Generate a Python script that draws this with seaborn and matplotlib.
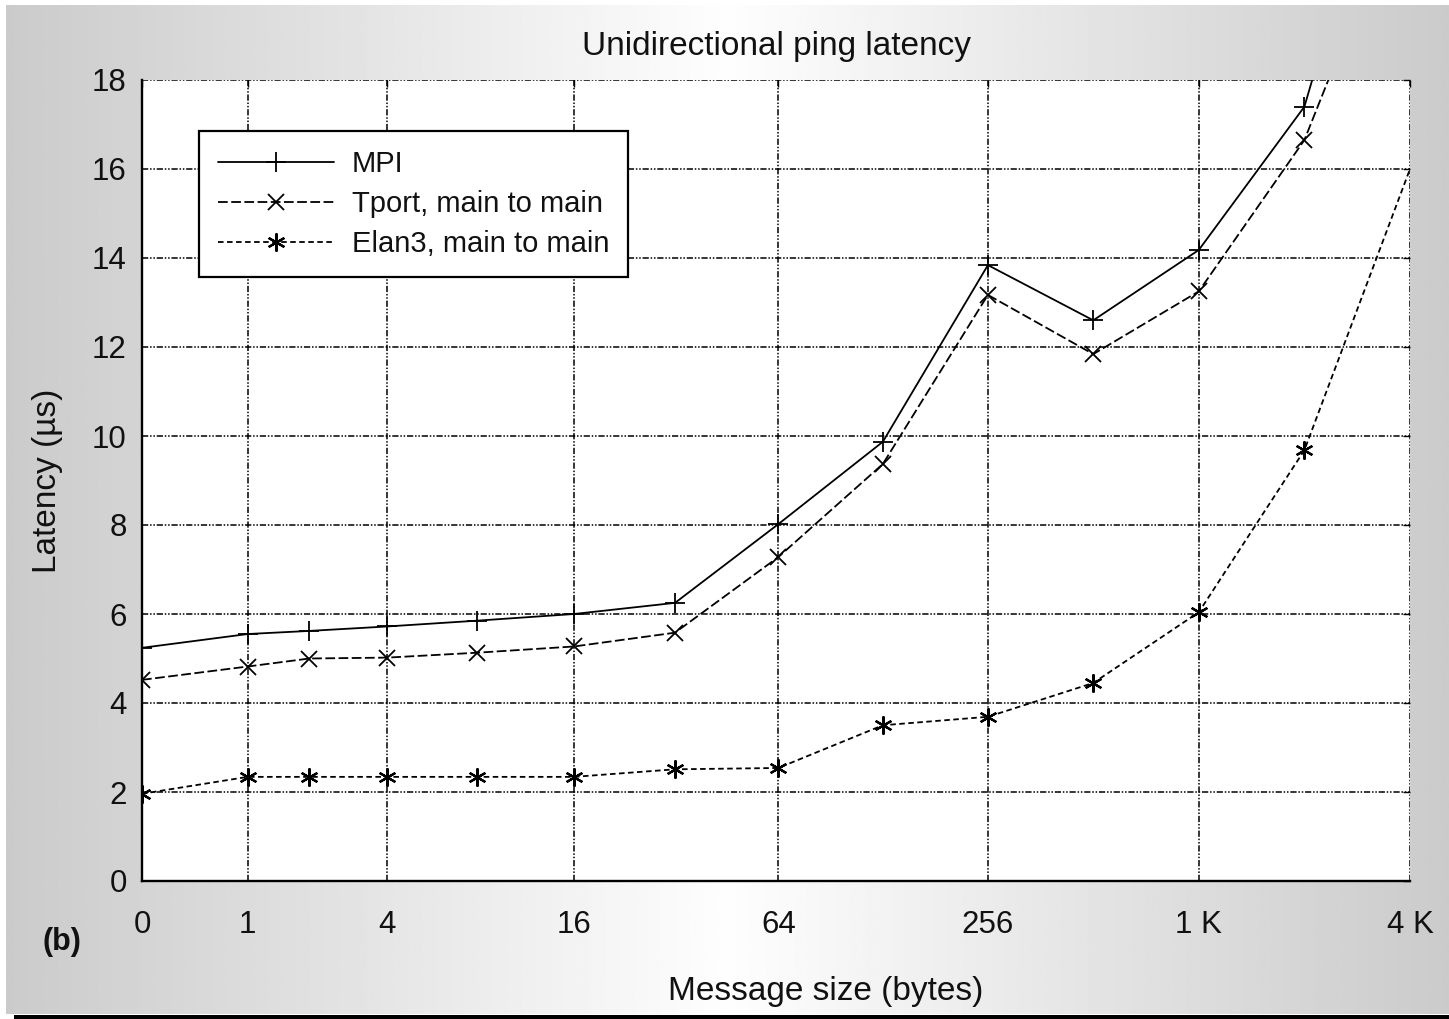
import numpy as np
import pandas as pd
import matplotlib
matplotlib.use("Agg")
import matplotlib.pyplot as plt
import seaborn as sns

# ---- data ----
msg_size = [0, 1, 2, 4, 8, 16, 32, 64, 128, 256, 512, 1024, 2048, 4096]
mpi = [5.24, 5.55, 5.62, 5.72, 5.85, 6.0, 6.25, 8.02, 9.87, 13.84, 12.6, 14.18, 17.4, 25.5]
tport = [4.52, 4.82, 5.0, 5.02, 5.13, 5.27, 5.58, 7.28, 9.37, 13.17, 11.84, 13.25, 16.65, 22.6]
elan3 = [1.96, 2.34, 2.34, 2.34, 2.34, 2.34, 2.51, 2.54, 3.5, 3.69, 4.45, 6.04, 9.68, 16.0]
series_names = ["MPI", "Tport, main to main", "Elan3, main to main"]
x_ticks = [0, 1, 4, 16, 64, 256, 1024, 4096]
x_tick_labels = ["0", "1", "4", "16", "64", "256", "1 K", "4 K"]
y_ticks = [0, 2, 4, 6, 8, 10, 12, 14, 16, 18]

sns.set_theme(style="white")
plt.rcParams["font.family"] = ["Liberation Sans", "DejaVu Sans"]
plt.rcParams["lines.scale_dashes"] = False

W, H = 1449, 1019
fig = plt.figure(figsize=(W / 100, H / 100), dpi=100, facecolor="white")

# gray shaded backdrop
bg = fig.add_axes([6 / W, 5 / H, 1 - 6 / W, (1014 - 5) / H], zorder=-10)
xs = np.linspace(0, 1, 600)
g = 0.795 + 0.2 * (1 - np.abs(xs - 0.5) / 0.5)
bg.imshow(np.tile(g, (2, 1)), cmap="gray", vmin=0, vmax=1, aspect="auto",
          extent=[0, 1, 0, 1])
bg.set_axis_off()
bar = fig.add_axes([14 / W, 0, 1 - 14 / W, 4 / H], zorder=-9)
bar.set_facecolor("black")
bar.set_xticks([]); bar.set_yticks([])
for s in bar.spines.values():
    s.set_visible(False)

ax = fig.add_axes([142 / W, (H - 881) / H, 1268 / W, 801 / H])
ax.set_facecolor("white")

df = pd.DataFrame({"size": msg_size, "MPI": mpi, "Tport": tport, "Elan3": elan3})

fs_leg = 21
fs_tick = 22.5
fs_lab = 24
mk_every = list(range(len(msg_size) - 1))

sns.lineplot(data=df, x="size", y="MPI", ax=ax, color="black", lw=1.3,
             marker="+", markersize=15, markeredgewidth=1.3,
             markeredgecolor="black", label=series_names[0], markevery=mk_every)
sns.lineplot(data=df, x="size", y="Tport", ax=ax, color="black", lw=1.3,
             marker="x", markersize=11, markeredgewidth=1.3,
             markeredgecolor="black", dashes=(7, 2.5), label=series_names[1],
             markevery=mk_every)
sns.lineplot(data=df, x="size", y="Elan3", ax=ax, color="black", lw=1.3,
             marker=(6, 2, 0), markersize=13, markeredgewidth=1.6,
             markeredgecolor="black", dashes=(4, 2.5), label=series_names[2],
             markevery=mk_every)

ax.set_xscale("function", functions=(lambda v: np.log2(np.maximum(v, -0.999) + 1),
                                     lambda v: 2.0 ** v - 1))
ax.set_xlim(0, 4096)
ax.set_ylim(0, 18)
ax.set_xticks(x_ticks)
ax.set_xticklabels(x_tick_labels)
ax.set_yticks(y_ticks)
ax.xaxis.set_minor_locator(matplotlib.ticker.NullLocator())
ax.tick_params(axis="both", which="major", direction="in", length=5, width=1,
               colors="black", labelsize=fs_tick, top=True, right=True)
ax.tick_params(axis="x", pad=21)
ax.tick_params(axis="y", pad=11)
for lbl in ax.get_xticklabels() + ax.get_yticklabels():
    lbl.set_color("#111111")

ax.grid(True, color="black", lw=1.1, linestyle=(0, (4.5, 1.3, 1.1, 1.3, 1.1, 1.3)))
ax.set_axisbelow(True)
ax.spines["left"].set_linewidth(1.7)
ax.spines["bottom"].set_linewidth(1.7)
ax.spines["left"].set_color("black")
ax.spines["bottom"].set_color("black")
ax.spines["top"].set_visible(False)
ax.spines["right"].set_visible(False)

ax.set_title("Unidirectional ping latency", fontsize=fs_lab, pad=18, color="#111111")
ax.set_xlabel("Message size (bytes)", fontsize=fs_lab, color="#111111")
ax.set_ylabel("Latency (\u00b5s)", fontsize=fs_lab, color="#111111")
ax.xaxis.set_label_coords(0.539, -0.118)
ax.yaxis.set_label_coords(-0.062, 0.5)

leg = ax.legend(loc="upper left", bbox_to_anchor=(0.045, 0.936), fontsize=fs_leg,
                frameon=True, fancybox=False, framealpha=1, edgecolor="black",
                handlelength=4.0, handletextpad=0.6, labelspacing=0.42,
                borderpad=0.64, borderaxespad=0)
leg.get_frame().set_linewidth(1.6)
for t in leg.get_texts():
    t.set_color("#111111")

fig.text(62 / W, 1 - 942 / H, "(b)", fontsize=22, fontweight="bold",
         ha="center", va="center", color="#111111")

fig.savefig("out.png", dpi=100, facecolor=fig.get_facecolor())
